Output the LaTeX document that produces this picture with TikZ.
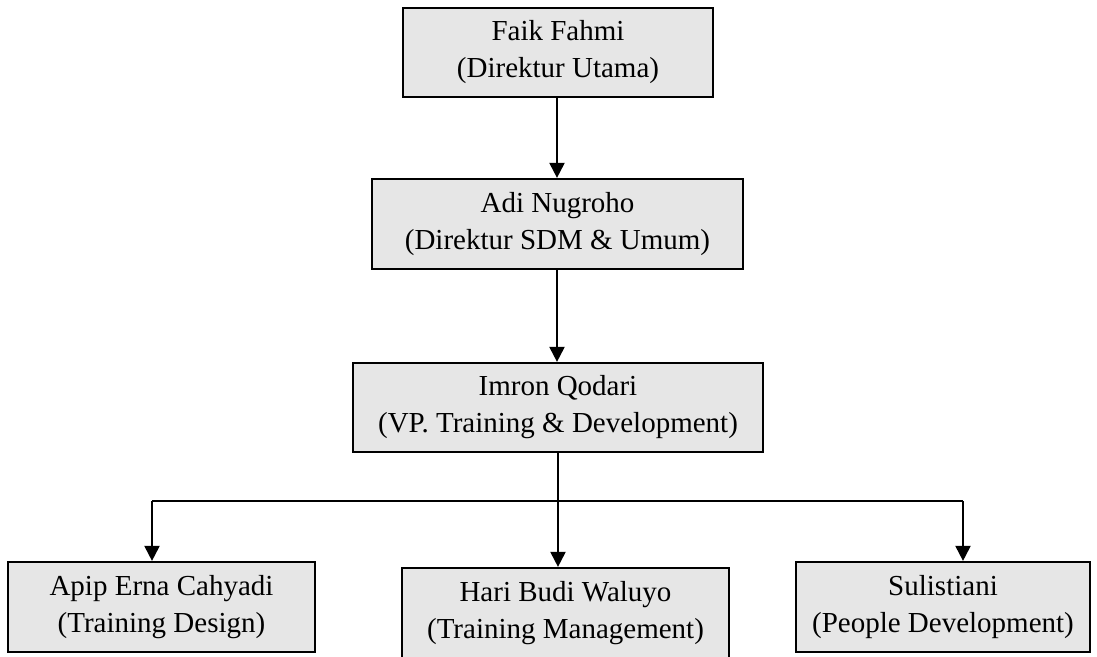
\documentclass[tikz,border=0pt]{standalone}
\usepackage{fontspec}
\setmainfont{Liberation Serif}
\usetikzlibrary{arrows.meta}
\definecolor{boxfill}{HTML}{E6E6E6}
\tikzset{
  orgbox/.style={draw=black, line width=2.2pt, fill=boxfill, rectangle, inner sep=0pt,
    align=center, font=\fontsize{29}{37}\selectfont},
  conn/.style={line width=2pt, draw=black},
  arr/.style={conn, -{Triangle[length=15pt,width=15pt]}}
}
\begin{document}
\begin{tikzpicture}[x=1pt,y=-1pt]
\useasboundingbox (0,0) rectangle (1097,656);
\node[orgbox, minimum width=310pt, minimum height=89pt] (b1) at (558,52.5) {Faik Fahmi\\(Direktur Utama)};
\node[orgbox, minimum width=371pt, minimum height=90pt] (b2) at (557.5,224) {Adi Nugroho\\(Direktur SDM \& Umum)};
\node[orgbox, minimum width=410pt, minimum height=89pt] (b3) at (558,407.5) {Imron Qodari\\(VP. Training \& Development)};
\node[orgbox, minimum width=307pt, minimum height=90pt] (b4) at (161.5,607) {Apip Erna Cahyadi\\(Training Design)};
\node[orgbox, minimum width=327pt, minimum height=90pt] (b5) at (565.5,613) {Hari Budi Waluyo\\(Training Management)};
\node[orgbox, minimum width=294pt, minimum height=90pt] (b6) at (943,607) {Sulistiani\\(People Development)};
\coordinate (hl) at (152,501);
\coordinate (hm) at (558,501);
\coordinate (hr) at (963,501);
\draw[arr] (b1.south -| 557,0) -- (b2.north -| 557,0);
\draw[arr] (b2.south -| 557,0) -- (b3.north -| 557,0);
\draw[conn] (b3.south -| hm) -- (hm);
\draw[conn] (hl) -- (hr);
\draw[arr] (hl) -- (b4.north -| hl);
\draw[arr] (hm) -- (b5.north -| hm);
\draw[arr] (hr) -- (b6.north -| hr);
\end{tikzpicture}
\end{document}
